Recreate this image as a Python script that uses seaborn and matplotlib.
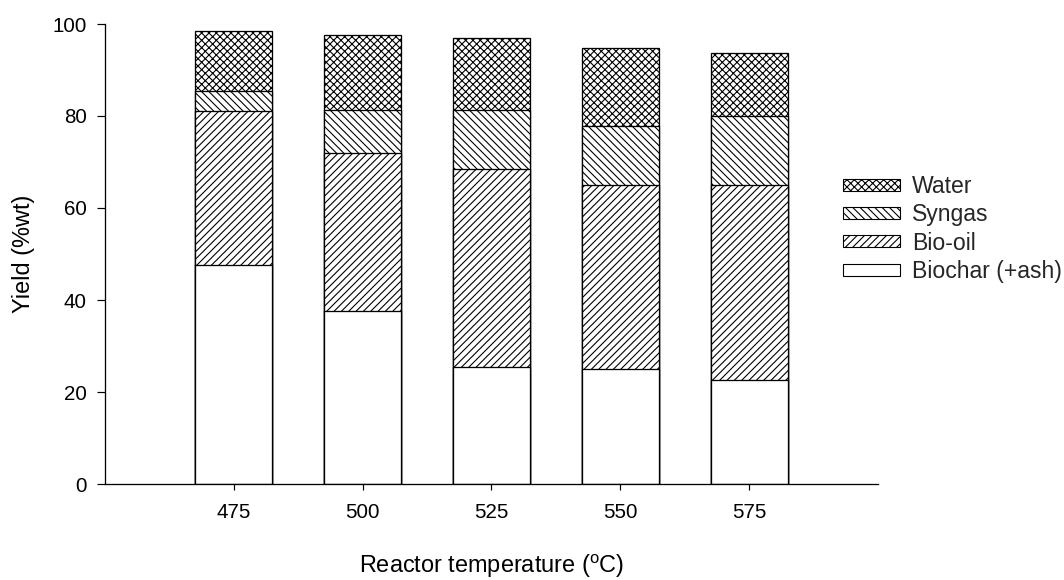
import numpy as np
import pandas as pd
import matplotlib
matplotlib.use("Agg")
import matplotlib.pyplot as plt
from matplotlib.patches import Patch
import seaborn as sns

# ---- data ----
temperatures = ["475", "500", "525", "550", "575"]
biochar = [47.6, 37.7, 25.5, 25.1, 22.7]
bio_oil = [33.4, 34.2, 42.9, 39.8, 42.2]
syngas = [4.5, 9.5, 13.0, 13.0, 15.0]
water = [13.0, 16.2, 15.6, 16.9, 13.8]
y_ticks = [0, 20, 40, 60, 80, 100]

# ---- geometry helpers ----
DPI = 88
W, H = 1064, 580


def pt(px):
    return px * 72.0 / DPI


sns.set_theme(style="ticks")
plt.rcParams["font.family"] = ["Liberation Sans", "DejaVu Sans"]
plt.rcParams["mathtext.fontset"] = "custom"
plt.rcParams["mathtext.rm"] = "Liberation Sans"
plt.rcParams["hatch.linewidth"] = pt(1.1)
plt.rcParams["hatch.color"] = "black"

TICK_PX = 20.5
LABEL_PX = 23.5
LEG_PX = 23.0

fig = plt.figure(figsize=(W / DPI, H / DPI), dpi=DPI)
fig.patch.set_facecolor("white")
ax = fig.add_axes([105 / W, (H - 484) / H, (878 - 105) / W, (484 - 24) / H])

df = pd.DataFrame({
    "Temperature": temperatures,
    "Biochar (+ash)": biochar,
    "Bio-oil": bio_oil,
    "Syngas": syngas,
    "Water": water,
})
stack_order = ["Biochar (+ash)", "Bio-oil", "Syngas", "Water"]
cum = df[stack_order].cumsum(axis=1)
cum["Temperature"] = df["Temperature"]

hatches = {"Water": "xxxx", "Syngas": "\\\\\\\\", "Bio-oil": "////",
           "Biochar (+ash)": ""}

# draw cumulative totals from the top layer down; each lower layer covers
# the part of the bar beneath its own top
for name in reversed(stack_order):
    sns.barplot(data=cum, x="Temperature", y=name, order=temperatures,
                width=0.6, color="white", saturation=1, edgecolor="black",
                linewidth=pt(1.3), hatch=hatches[name], errorbar=None, ax=ax)

ax.set_xlim(-1, 5)
ax.set_ylim(0, 100)
ax.set_yticks(y_ticks)
sns.despine(ax=ax)
for s in ["left", "bottom"]:
    ax.spines[s].set_linewidth(pt(1.3))
    ax.spines[s].set_color("black")

ax.tick_params(axis="x", length=pt(6), width=pt(1.2), pad=pt(13.5),
               labelsize=pt(TICK_PX), colors="black")
ax.tick_params(axis="y", length=pt(8), width=pt(1.2), pad=pt(10),
               labelsize=pt(TICK_PX), colors="black")

ax.set_xlabel("Reactor temperature ($^{\\mathrm{o}}$C)", fontsize=pt(LABEL_PX),
              color="black", va="baseline")
ax.set_ylabel("Yield (%wt)", fontsize=pt(LABEL_PX), color="black")
ax.xaxis.set_label_coords(0.5, (484 - 573.5) / 460)
ax.yaxis.set_label_coords((35 - 105) / 773, 0.5)

legend_names = ["Water", "Syngas", "Bio-oil", "Biochar (+ash)"]
handles = [Patch(facecolor="white", edgecolor="black", hatch=hatches[n],
                 linewidth=pt(1.1)) for n in legend_names]
fig.legend(handles, legend_names, loc="upper left",
           bbox_to_anchor=(843 / W, 1 - 175 / H), frameon=False,
           borderpad=0, borderaxespad=0, fontsize=pt(LEG_PX),
           handlelength=57 / LEG_PX, handleheight=10 / LEG_PX,
           handletextpad=12 / LEG_PX, labelspacing=0.23)

fig.savefig("out.png", dpi=DPI, facecolor="white")
